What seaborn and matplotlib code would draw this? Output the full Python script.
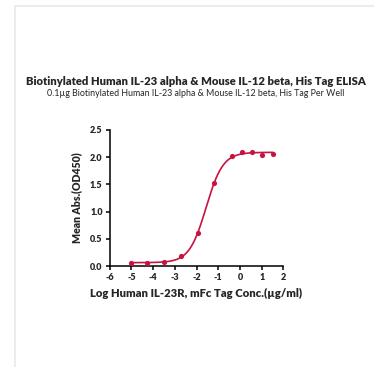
import numpy as np
import pandas as pd
import matplotlib
matplotlib.use("Agg")
import matplotlib.pyplot as plt
from matplotlib.patches import Rectangle
import seaborn as sns

# Measured ELISA points: log10 concentration (µg/ml) vs mean OD450
log_conc = [1.51, 1.02, 0.55, 0.08, -0.38, -1.18, -1.95, -2.72, -3.48, -4.27, -5.03]
od450 = [2.06, 2.04, 2.10, 2.09, 2.03, 1.52, 0.61, 0.18, 0.074, 0.055, 0.055]

x_ticks = [-6, -5, -4, -3, -2, -1, 0, 1, 2]
y_ticks = [0.0, 0.5, 1.0, 1.5, 2.0, 2.5]

title = "Biotinylated Human IL-23 alpha & Mouse IL-12 beta, His Tag ELISA"
subtitle = "0.1µg Biotinylated Human IL-23 alpha & Mouse IL-12 beta, His Tag Per Well"
x_label = "Log Human IL-23R, mFc Tag Conc.(µg/ml)"
y_label = "Mean Abs.(OD450)"

color = "#c8123f"

df = pd.DataFrame({"logc": log_conc, "od": od450})


def sigmoid(x, ec50, hill):
    return 1.0 / (1.0 + 10 ** ((ec50 - x) * hill))


# Four-parameter logistic fit: grid over EC50/Hill, linear solve for bottom/top
x = np.asarray(log_conc)
y = np.asarray(od450)
best = None
for ec50 in np.linspace(-3, 0, 301):
    for hill in np.linspace(0.4, 3.0, 261):
        s = sigmoid(x, ec50, hill)
        A = np.column_stack([1 - s, s])
        coef, *_ = np.linalg.lstsq(A, y, rcond=None)
        err = np.sum((A @ coef - y) ** 2)
        if best is None or err < best[0]:
            best = (err, ec50, hill, coef)
_, ec50, hill, (bottom, top) = best
xf = np.linspace(min(log_conc), max(log_conc), 300)
fit = pd.DataFrame({"logc": xf, "od": bottom + (top - bottom) * sigmoid(xf, ec50, hill)})

sns.set_theme(style="ticks")
plt.rcParams["font.family"] = ["Lato", "DejaVu Sans"]

fig = plt.figure(figsize=(3.74, 3.67), dpi=100)
ax = fig.add_axes([0.293, 0.275, 0.465, 0.371])

sns.lineplot(data=fit, x="logc", y="od", ax=ax, color=color, linewidth=1.2)
sns.scatterplot(data=df, x="logc", y="od", ax=ax, color=color, s=14,
                edgecolor=color, linewidth=0, zorder=3)

ax.set_xlim(-6, 2)
ax.set_ylim(0, 2.5)
ax.set_xticks(x_ticks)
ax.set_yticks(y_ticks)
ax.set_xticklabels([str(t) for t in x_ticks])
ax.set_yticklabels([f"{t:.1f}" for t in y_ticks])
ax.tick_params(axis="both", length=3, width=1.1, labelsize=6.5, pad=2, color="black")
for lab in ax.get_xticklabels() + ax.get_yticklabels():
    lab.set_fontweight("heavy")
for side in ("top", "right"):
    ax.spines[side].set_visible(False)
for side in ("left", "bottom"):
    ax.spines[side].set_linewidth(1.1)
    ax.spines[side].set_color("black")

ax.set_xlabel(x_label, fontsize=8.1, fontweight="heavy", labelpad=4)
ax.set_ylabel(y_label, fontsize=7.6, fontweight="heavy", labelpad=6)

fig.text(0.525, 0.777, title, ha="center", va="center", fontsize=8.1, fontweight="heavy")
fig.text(0.522, 0.745, subtitle, ha="center", va="center", fontsize=6.4)

# Light frame along the top and left edges
fig.patches.append(Rectangle((14 / 374, 1 - 7 / 367), 1, 2 / 367, transform=fig.transFigure,
                             facecolor="#ececec", edgecolor="none"))
fig.patches.append(Rectangle((14 / 374, 0), 2 / 374, 1 - 5 / 367, transform=fig.transFigure,
                             facecolor="#ececec", edgecolor="none"))

fig.savefig("out.png", dpi=100, facecolor="white")
